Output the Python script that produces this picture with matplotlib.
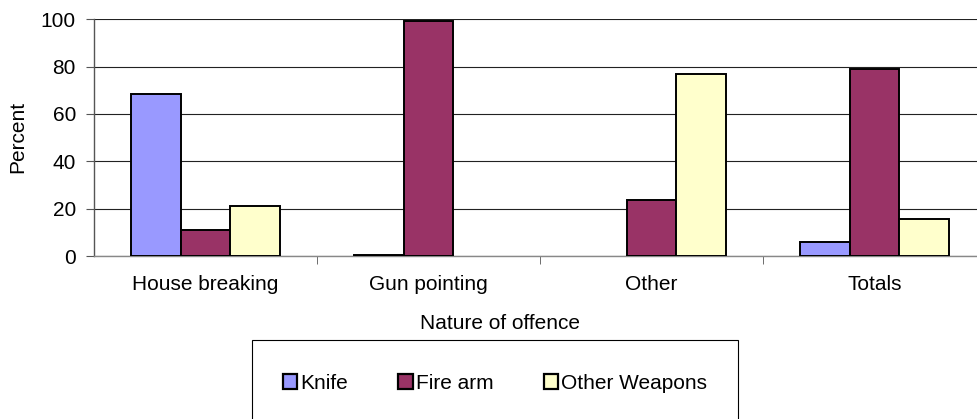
import matplotlib.pyplot as plt
import matplotlib.patches as mpatches
import numpy as np

plt.rcParams['font.family'] = ['Liberation Sans', 'DejaVu Sans']

# data
categories = ["House breaking", "Gun pointing", "Other", "Totals"]
knife = [68.5, 0.5, 0.0, 6.1]
fire_arm = [10.9, 99.4, 23.5, 78.8]
other_weapons = [21.2, 0.0, 76.9, 15.5]
series_names = ["Knife", "Fire arm", "Other Weapons"]
series_colors = ["#9999FF", "#993366", "#FFFFCC"]
yticks = [0, 20, 40, 60, 80, 100]

FS = 15
W, H = 978, 419
fig = plt.figure(figsize=(W / 100, H / 100), dpi=100)
ax = fig.add_axes([94 / W, (H - 256) / H, (986 - 94) / W, (256 - 19.3) / H])

x = np.arange(len(categories))
bw = 0.222
for i, (vals, col) in enumerate(zip([knife, fire_arm, other_weapons], series_colors)):
    vals = np.array(vals)
    edges = ['black' if v > 0 else 'none' for v in vals]
    ax.bar(x + (i - 1) * bw, vals, bw, color=col, edgecolor=edges, linewidth=1.4, zorder=3)

ax.set_xlim(-0.5, 3.5)
ax.set_ylim(0, 100)
ax.set_yticks(yticks)
ax.yaxis.grid(True, color='#222222', linewidth=0.8, zorder=0)
ax.set_xticks(x)
ax.set_xticklabels(categories, fontsize=FS)
ax.set_xticks([0.5, 1.5, 2.5], minor=True)
ax.tick_params(axis='x', which='major', length=0, pad=14)
ax.tick_params(axis='x', which='minor', length=6, color='#555555', direction='out')
ax.tick_params(axis='y', length=6, color='#555555', labelsize=FS, pad=7)

for s in ['top', 'right']:
    ax.spines[s].set_visible(False)
ax.spines['left'].set_color('#555555')
ax.spines['bottom'].set_color('#888888')
ax.spines['left'].set_linewidth(1.0)
ax.spines['bottom'].set_linewidth(1.0)

fig.text(18 / W, 1 - 137 / H, "Percent", rotation=90, ha='center', va='center', fontsize=FS)
fig.text(500 / W, 1 - 323 / H, "Nature of offence", ha='center', va='center', fontsize=FS)

# legend box
box = mpatches.Rectangle((252 / W, -0.1), (738 - 252) / W, (1 - 339.5 / H) + 0.1,
                         transform=fig.transFigure, facecolor='white',
                         edgecolor='black', linewidth=0.8)
fig.patches.append(box)
handles = [mpatches.Patch(facecolor=c, edgecolor='black', linewidth=1.6, label=n)
           for n, c in zip(series_names, series_colors)]
fig.legend(handles=handles, loc='center', bbox_to_anchor=(495 / W, 1 - 383 / H),
           ncol=3, frameon=False, fontsize=FS, handlelength=0.7, handleheight=0.7,
           handletextpad=0.15, columnspacing=2.4)

fig.savefig("out.png", dpi=100)
